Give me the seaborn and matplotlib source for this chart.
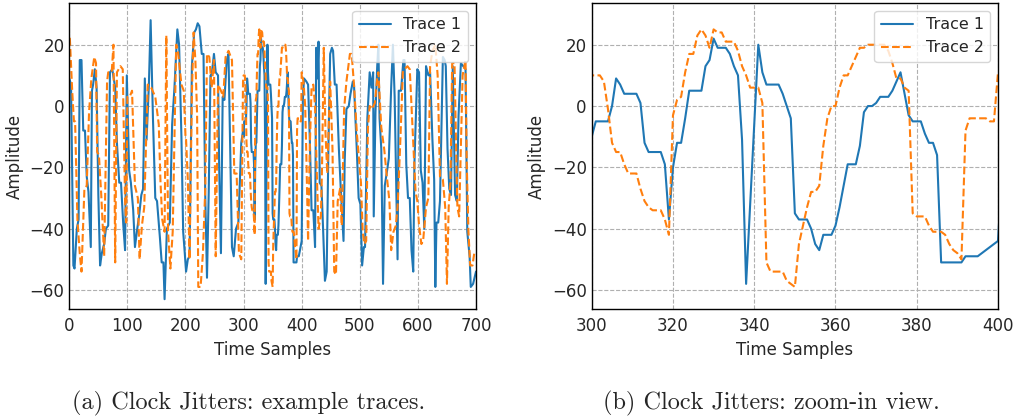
import numpy as np
import pandas as pd
import matplotlib
matplotlib.use("Agg")
import matplotlib.pyplot as plt
import seaborn as sns

# Trace 1 (blue), samples 0-299: breakpoints
t1_head_x = [0, 3, 7, 9, 13, 16, 18, 21, 24, 27, 30, 33, 37, 39, 41, 44, 47, 50, 53, 56,
             60, 63, 67, 70, 74, 79, 82, 86, 89, 93, 96, 99, 103, 106, 110, 113, 117, 120,
             124, 127, 130, 133, 137, 140, 144, 148, 151, 156, 159, 162, 164, 168, 173,
             177, 181, 186, 189, 193, 196, 198, 201, 204, 207, 211, 215, 218, 221, 224,
             228, 231, 234, 237, 240, 243, 245, 249, 252, 256, 258, 261, 264, 267, 271,
             274, 277, 280, 283, 287, 291, 296, 299]
t1_head_y = [9, 7, -52, -53, -40, -37, 15, 15, -8, -8, -23, -28, -46, 5, 7, 12, 6, -29, -52, -48,
             -45, -40, -39, 11, 12, 6, -12, -25, -25, -39, -47, 10, -21, -25, -34, -46, -40, -36,
             -29, -27, 9, -11, 7, 28, -4, -30, -31, -43, -51, -51, -63, -40, -38,
             -6, 6, 25, 20, -10, -41, -46, -54, -50, -49, 13, 24, 25, 27, 26,
             17, 17, -29, -56, -28, 10, 10, 17, 11, 10, -20, -48, 3, 2, 15,
             17, -14, -46, -49, -40, -38, -12, -8]

# Trace 1, samples 300-400: one value per sample (zoom-in view)
t1_zoom_y = [-10, -5, -5, -5, -5, 0, 9, 7, 4, 4, 4, 4, 1, -12, -15, -15, -15, -15, -19, -37,
             -20, -12, -12, -4, 5, 5, 5, 5, 13, 15, 22, 19, 19, 19, 17, 13, 10, -11, -58, -32,
             -6, 20, 11, 7, 7, 7, 7, 4, 0, -4, -35, -37, -37, -37, -40, -45, -47, -42, -42, -42,
             -39, -33, -26, -19, -19, -19, -13, -2, 0, 0, 1, 3, 3, 3, 5, 8, 11, 4, -3, -5,
             -5, -5, -9, -12, -12, -16, -51, -51, -51, -51, -51, -51, -49, -49, -49, -49, -48, -47, -46, -45,
             -44]

# Trace 1, samples 401-700: breakpoints
t1_tail_x = [402, 404, 408, 411, 414, 417, 420, 423, 425, 427, 429, 431, 434, 437, 440, 443,
             446, 449, 452, 454, 457, 460, 464, 467, 472, 474, 477, 481, 484, 488, 490, 495,
             498, 501, 504, 507, 509, 513, 517, 520, 523, 524, 527, 530, 532, 534, 537, 540,
             543, 547, 550, 554, 557, 560, 563, 565, 567, 571, 575, 577, 580, 583, 586, 589,
             592, 594, 599, 602, 605, 608, 611, 614, 618, 621, 625, 628, 630, 632, 635, 638,
             643, 646, 648, 651, 654, 657, 660, 664, 667, 670, 674, 678, 682, 685, 689, 691,
             695, 700]
t1_tail_y = [2, 9, 8, 7, -11, -34, -34, -46, 19, 9, 21, -25, -26, -41, -57, -54,
             -13, 17, 19, 18, 7, 7, -14, -26, -44, -18, -1, 0, 4, 8, 7, -15,
             -30, -32, -52, -46, -46, -4, 11, 6, 11, -36, -2, 13, 20, -4, -14, -58,
             -26, -21, -17, 6, 20, 3, -28, -50, 5, 5, 15, 15, -19, -30, -30, -47,
             -54, -19, 12, 11, -21, -25, -40, 13, 10, 11, -11, -24, -59, -38, -38, -31,
             16, 15, 13, -14, -27, -29, 13, -29, -31, -3, 14, 13, 12, -41, -49, -59,
             -58, -54]

# Trace 2 (orange), samples 0-299
t2_head_x = [0, 1, 5, 8, 10, 14, 18, 21, 26, 30, 34, 38, 43, 46, 48, 51, 55, 60, 65, 67,
             73, 76, 79, 82, 88, 92, 96, 98, 100, 104, 108, 113, 118, 121, 125, 129, 135,
             141, 148, 154, 157, 160, 164, 167, 170, 174, 178, 184, 187, 193, 197, 200,
             201, 204, 207, 211, 214, 217, 220, 222, 226, 230, 234, 237, 241, 245, 249,
             252, 256, 261, 265, 269, 274, 280, 284, 288, 292, 296, 299]
t2_head_y = [22, 22, 5, -5, -5, -37, -48, -54, -27, -26, -2, 9, 16, 14, -15, -16, -29, -49, 8, 11,
             11, 20, -51, 11, 13, 12, -31, -38, 3, 3, 5, -26, -30, -50, -39, -33, 7,
             6, 3, -6, -25, -37, -41, 23, -41, -53, -41, 20, 18, 7, 5, -10,
             -11, -24, -50, 4, 24, 15, -3, -59, -59, -48, -27, 17, 16, 6, 15,
             -49, 7, 5, 3, 16, 18, 15, -22, -22, -48, -50, 8]

# Trace 2, samples 300-400
t2_zoom_y = [10, 10, 10, 8, -1, -12, -15, -15, -19, -22, -22, -22, -27, -31, -33, -34, -34, -34, -37, -42,
             -3, 2, 3, 11, 17, 17, 23, 25, 23, 19, 25, 24, 24, 21, 21, 21, 18, 13, 10, 6,
             6, 6, 1, -51, -54, -54, -54, -54, -57, -58, -59, -45, -39, -33, -28, -28, -26, -13, -4, 0,
             0, 6, 10, 10, 13, 16, 19, 19, 20, 20, 20, 20, 20, 18, 14, 9, 9, 6, 5, -35,
             -36, -36, -36, -39, -41, -41, -41, -42, -45, -47, -48, -50, -8, -4, -4, -4, -4, -4, -5, -5,
             11]

# Trace 2, samples 401-700
t2_tail_x = [403, 406, 408, 411, 414, 417, 420, 423, 426, 429, 433, 435, 438, 441, 444, 449,
             453, 456, 459, 462, 466, 469, 473, 477, 483, 486, 490, 495, 499, 502, 505, 508,
             511, 514, 517, 521, 526, 530, 532, 537, 542, 546, 551, 554, 558, 562, 565, 569,
             572, 574, 577, 582, 586, 592, 596, 599, 602, 606, 609, 614, 618, 621, 625, 630,
             634, 638, 643, 647, 650, 653, 656, 659, 663, 666, 668, 671, 677, 682, 684, 687,
             690, 694, 697, 700]
t2_tail_y = [8, 0, -16, -44, -13, 6, 7, 0, -22, -40, -36, -20, 19, -9, -22, 8,
             -14, -54, -55, -31, -27, -39, -1, 8, 17, 17, 7, -9, -18, -25, -41, -45,
             -44, -7, 0, -1, 1, 9, 11, -7, -14, -22, -31, -47, -41, -39, -33, -15,
             0, 11, 12, 13, 12, -12, -28, -31, -39, -45, -44, -33, -30, 13, 18, 20,
             10, -23, -24, -33, -58, -33, -25, 14, 14, -16, -33, -36, 10, 15, -18, -41,
             -52, -52, -48, -48]

zoom_x = list(range(300, 401))

t1 = pd.DataFrame({"sample": t1_head_x + zoom_x + t1_tail_x,
                   "amp": t1_head_y + t1_zoom_y + t1_tail_y})
t2 = pd.DataFrame({"sample": t2_head_x + zoom_x + t2_tail_x,
                   "amp": t2_head_y + t2_zoom_y + t2_tail_y})

sns.set_style("whitegrid", {"grid.linestyle": "--", "grid.color": "#b0b0b0",
                            "axes.edgecolor": "black"})
plt.rcParams["font.family"] = ["DejaVu Sans"]

fig = plt.figure(figsize=(10.16, 4.19), dpi=100)
ax1 = fig.add_axes([0.0682, 0.2625, 0.4003, 0.7303])
ax2 = fig.add_axes([0.5824, 0.2625, 0.3999, 0.7303])

for ax, xlim in [(ax1, (0, 700)), (ax2, (300, 400))]:
    sns.lineplot(data=t1, x="sample", y="amp", ax=ax, color="#1f77b4", lw=1.5,
                 estimator=None, sort=False, label="Trace 1")
    sns.lineplot(data=t2, x="sample", y="amp", ax=ax, color="#ff7f0e", lw=1.5,
                 linestyle="--", estimator=None, sort=False, label="Trace 2")
    ax.set_xlim(*xlim)
    ax.set_ylim(-66.2, 33.6)
    ax.set_yticks([-60, -40, -20, 0, 20])
    ax.set_xlabel("Time Samples", fontsize=12, labelpad=4)
    ax.set_ylabel("Amplitude", fontsize=12, labelpad=4)
    ax.tick_params(labelsize=12, length=0)
    ax.tick_params(axis="y", pad=3.5)
    ax.tick_params(axis="x", pad=6)
    ax.grid(True, linestyle="--", color="#b0b0b0", lw=0.8)
    for sp in ax.spines.values():
        sp.set_color("black")
        sp.set_linewidth(1.0)
    ax.legend(loc="upper right", fontsize=11.5, frameon=True, borderaxespad=0.5)

ax2.set_xticks([300, 320, 340, 360, 380, 400])

fig.text(0.245, 0.022, "(a) Clock Jitters: example traces.", ha="center",
         fontsize=17.5, family="cmr10")
fig.text(0.759, 0.022, "(b) Clock Jitters: zoom-in view.", ha="center",
         fontsize=17.5, family="cmr10")

fig.savefig("out.png", dpi=100)
